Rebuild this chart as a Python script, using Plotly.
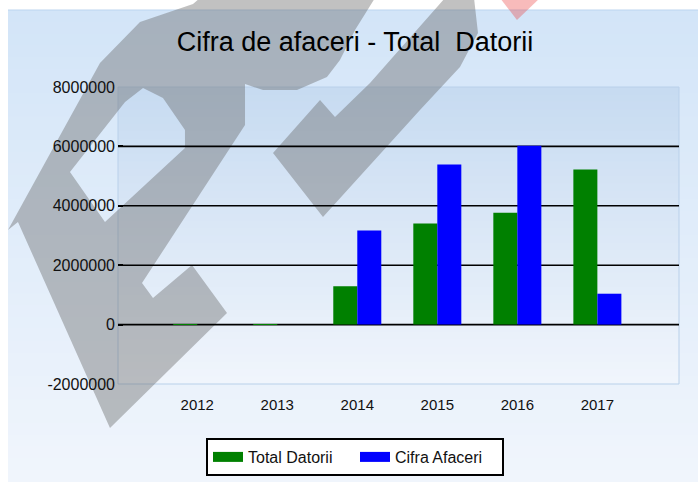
import plotly.graph_objects as go

# --- data ---
years = ["2012", "2013", "2014", "2015", "2016", "2017"]
total_datorii = [15000, 12000, 1290000, 3400000, 3770000, 5220000]
cifra_afaceri = [0, 0, 3170000, 5390000, 6020000, 1040000]

y_tick_vals = [-2000000, 0, 2000000, 4000000, 6000000, 8000000]
y_tick_text = ["-2000000", "0", "2000000", "4000000", "6000000", "8000000"]
grid_vals = [0, 2000000, 4000000, 6000000]

series = [("Total Datorii", total_datorii, "#008000"),
          ("Cifra Afaceri", cifra_afaceri, "#0000ff")]

W, H = 698, 482
M = dict(l=118, r=19, t=87, b=98, autoexpand=False)
PW = W - M["l"] - M["r"]
PH = H - M["t"] - M["b"]


def px(x, y):
    """image pixel -> paper coords"""
    return (x - M["l"]) / PW, (H - M["b"] - y) / PH


def poly_path(pts):
    s = ""
    for i, (x, y) in enumerate(pts):
        a, b = px(x, y)
        s += ("M" if i == 0 else "L") + f"{a:.4f},{b:.4f} "
    return s + "Z "


def mix(c1, c2, t):
    return "rgb(%d,%d,%d)" % tuple(round(a + (b - a) * t) for a, b in zip(c1, c2))


shapes = []

# card background (vertical gradient), white strip above / left
card_top, card_bot = (211, 229, 248), (240, 245, 252)
n = 40
for i in range(n):
    y0 = 10 + (H - 10) * i / n
    y1 = 10 + (H - 10) * (i + 1) / n + 1
    x0p, y0p = px(8, y0)
    x1p, y1p = px(W, y1)
    shapes.append(dict(type="rect", xref="paper", yref="paper", x0=x0p, x1=x1p,
                       y0=y1p, y1=y0p, fillcolor=mix(card_top, card_bot, i / (n - 1)),
                       line=dict(width=0), layer="below"))
a, b = px(8, 10)
c, d = px(W, 10)
shapes.append(dict(type="line", xref="paper", yref="paper", x0=a, x1=c, y0=b, y1=d,
                   line=dict(color="#bcd5ef", width=1), layer="below"))

# plot area (vertical gradient)
pa_top, pa_bot = (199, 219, 241), (240, 245, 252)
for i in range(n):
    y0 = i / n
    y1 = (i + 1) / n + 0.004
    shapes.append(dict(type="rect", xref="paper", yref="paper", x0=0, x1=1,
                       y0=1 - min(y1, 1), y1=1 - y0,
                       fillcolor=mix(pa_top, pa_bot, i / (n - 1)),
                       line=dict(width=0), layer="below"))
shapes.append(dict(type="rect", xref="paper", yref="paper", x0=0, x1=1, y0=0, y1=1,
                   line=dict(color="#b9d0ea", width=1), layer="below"))

# watermark
wm_p = [(8, 230), (100, 63), (140, 22), (193, 4), (200, -2), (375, -2), (355, 30),
        (340, 60), (327, 77), (297, 90), (263, 90), (245, 84), (245, 125), (142, 283),
        (153, 298), (192, 265), (227, 313), (110, 428), (18, 222)]
wm_hole = [(70, 172), (125, 102), (143, 88), (163, 98), (185, 130), (185, 148), (105, 222)]
wm_s = [(273, 153), (320, 100), (335, 117), (370, 83), (445, -2), (474, -2), (478, 33),
        (460, 67), (420, 110), (323, 217)]
wm_fill = "rgba(100,100,100,0.4)"
shapes.append(dict(type="path", xref="paper", yref="paper",
                   path=poly_path(wm_p) + poly_path(wm_hole), fillrule="evenodd",
                   fillcolor=wm_fill, line=dict(width=0), layer="below"))
shapes.append(dict(type="path", xref="paper", yref="paper", path=poly_path(wm_s),
                   fillcolor=wm_fill, line=dict(width=0), layer="below"))
wm_red = [(500, -2), (540, -2), (517, 20)]
shapes.append(dict(type="path", xref="paper", yref="paper", path=poly_path(wm_red),
                   fillcolor="rgba(235,60,60,0.35)", line=dict(width=0), layer="below"))

# gridlines
for v in grid_vals:
    shapes.append(dict(type="line", xref="paper", yref="y", x0=0, x1=1, y0=v, y1=v,
                       line=dict(color="black", width=1.6), layer="below"))

fig = go.Figure()
for name, vals, color in series:
    fig.add_trace(go.Bar(x=years, y=vals, name=name, showlegend=False,
                         marker=dict(color=color, line=dict(width=0))))
# legend keys drawn as wide flat swatches
for name, vals, color in series:
    fig.add_trace(go.Scatter(x=[None], y=[None], mode="lines", name=name,
                             line=dict(color=color, width=14), hoverinfo="skip"))

font = "Arial, 'Liberation Sans', sans-serif"
fig.update_layout(
    width=W, height=H, margin=M,
    paper_bgcolor="white", plot_bgcolor="rgba(0,0,0,0)",
    barmode="group", bargap=0.4, bargroupgap=0,
    title=dict(text="Cifra de afaceri - Total  Datorii", x=355 / W, xanchor="center",
               y=1 - 42 / H, yanchor="middle", xref="container", yref="container",
               font=dict(family=font, size=27, color="black")),
    font=dict(family=font, size=15, color="#111"),
    xaxis=dict(range=[-0.99, 6.02], showgrid=False, showline=False, zeroline=False,
               ticks="", ticklabelstandoff=10, tickfont=dict(size=15, color="#111")),
    yaxis=dict(range=[-2000000, 8000000], tickvals=y_tick_vals, ticktext=y_tick_text,
               showgrid=False, zeroline=False, showline=False, ticks="inside",
               ticklen=5, tickwidth=2, tickcolor="black", ticklabelstandoff=2,
               tickfont=dict(size=16, color="#111")),
    legend=dict(orientation="h", x=(355 - M["l"]) / PW, xanchor="center",
                y=(H - M["b"] - 438) / PH, yanchor="top", bgcolor="white",
                bordercolor="black", borderwidth=2, font=dict(size=16, color="#111"),
                itemwidth=30, entrywidth=102),
    shapes=shapes,
)

fig.write_html("out.html", config={"displayModeBar": False},
               post_script="document.body.style.margin='0';")
